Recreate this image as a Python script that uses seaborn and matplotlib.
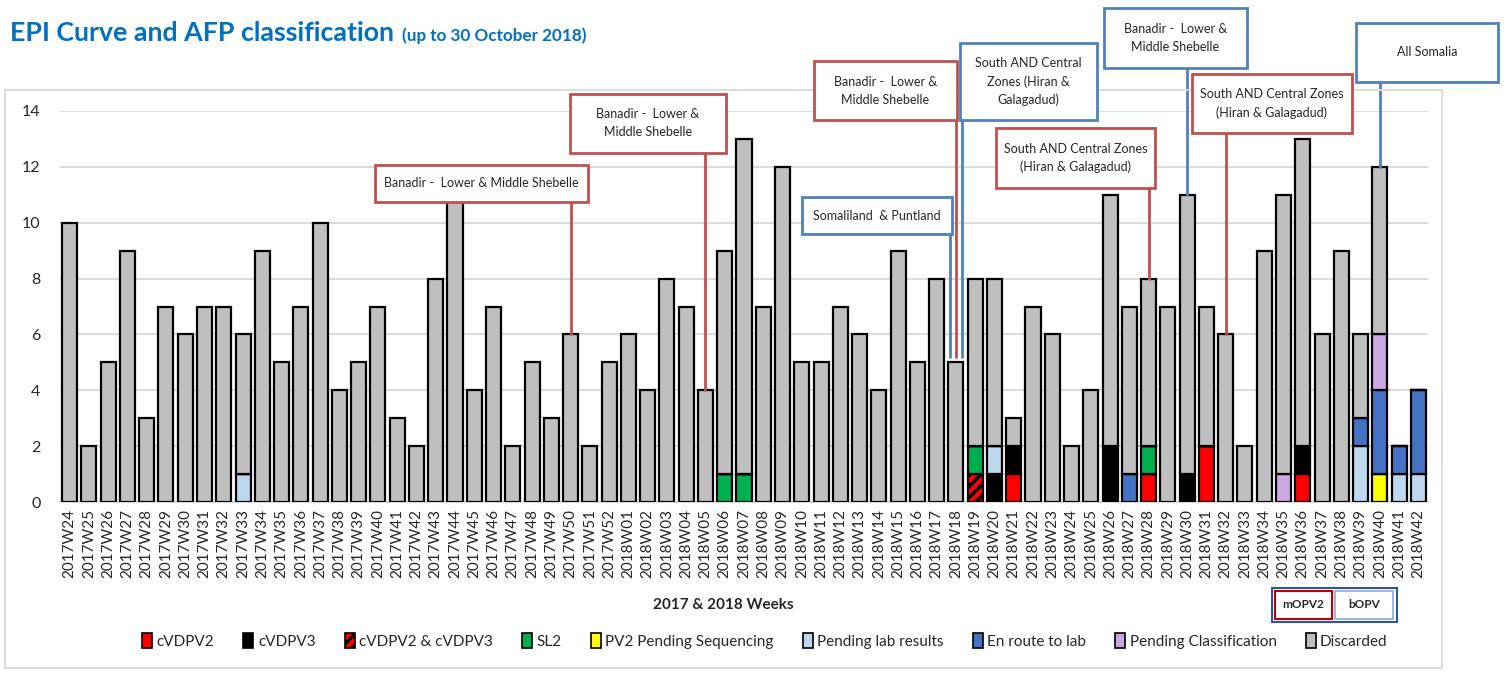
import numpy as np
import pandas as pd
import matplotlib
matplotlib.use("Agg")
import matplotlib.pyplot as plt
import seaborn as sns
from matplotlib.patches import Patch, Rectangle

# Weeks on the x axis
weeks = [f"2017W{w}" for w in range(24, 53)] + [f"2018W{w:02d}" for w in range(1, 43)]

# Discarded cases per week (grey part of each bar)
discarded = [10, 2, 5, 9, 3, 7, 6, 7, 7, 5, 9, 5, 7, 10, 4, 5, 7, 3, 2, 8, 11, 4, 7, 2, 5, 3, 6, 2, 5,
             6, 4, 8, 7, 4, 8, 12, 7, 12, 5, 5, 7, 6, 4, 9, 5, 8, 5, 6, 6, 1, 7, 6, 2, 4, 9,
             6, 6, 7, 10, 5, 6, 2, 9, 10, 11, 6, 9, 3, 6, 0, 0]

# Classified / pending cases (weeks not listed are zero)
cvdpv2 = {"2018W21": 1, "2018W28": 1, "2018W31": 2, "2018W36": 1}
cvdpv3 = {"2018W20": 1, "2018W21": 1, "2018W26": 2, "2018W30": 1, "2018W36": 1}
cvdpv2_3 = {"2018W19": 1}
sl2 = {"2018W06": 1, "2018W07": 1, "2018W19": 1, "2018W28": 1}
pv2_pending = {"2018W40": 1}
pending_lab = {"2017W33": 1, "2018W20": 1, "2018W39": 2, "2018W41": 1, "2018W42": 1}
en_route = {"2018W27": 1, "2018W39": 1, "2018W40": 3, "2018W41": 1, "2018W42": 3}
pending_class = {"2018W35": 1, "2018W40": 2}

categories = ["cVDPV2", "cVDPV3", "cVDPV2 & cVDPV3", "SL2", "PV2 Pending Sequencing",
              "Pending lab results", "En route to lab", "Pending Classification", "Discarded"]
colors = ["#FF0000", "#000000", "#FF0000", "#00B050", "#FFFF00",
          "#BDD7EE", "#4472C4", "#CCA8E2", "#BFBFBF"]
hatches = [None, None, "///", None, None, None, None, None, None]

# Annotation boxes: text, week pointed at, campaign type (m = mOPV2, b = bOPV)
notes_text = ["Banadir -  Lower & Middle Shebelle",
              "Banadir -  Lower &\nMiddle Shebelle",
              "Somaliland  & Puntland",
              "Banadir -  Lower &\nMiddle Shebelle",
              "South AND Central\nZones (Hiran &\nGalagadud)",
              "South AND Central Zones\n(Hiran & Galagadud)",
              "Banadir -  Lower &\nMiddle Shebelle",
              "South AND Central Zones\n(Hiran & Galagadud)",
              "All Somalia"]
notes_week = ["2017W50", "2018W05", "2018W18", "2018W18", "2018W18",
              "2018W28", "2018W30", "2018W32", "2018W40"]
notes_kind = ["m", "m", "b", "m", "b", "m", "b", "m", "b"]

RED = "#C0504D"
BLUE = "#4F81BD"

df = pd.DataFrame({"week": weeks})
series = [cvdpv2, cvdpv3, cvdpv2_3, sl2, pv2_pending, pending_lab, en_route, pending_class]
for name, d in zip(categories[:-1], series):
    df[name] = [d.get(w, 0) for w in weeks]
df["Discarded"] = discarded
totals = df[categories].sum(axis=1).values

sns.set_theme(style="white")
plt.rcParams["font.family"] = ["Lato", "DejaVu Sans"]
plt.rcParams["hatch.linewidth"] = 2.5
plt.rcParams["hatch.color"] = "black"

W, H = 1504, 673
fig = plt.figure(figsize=(W / 100, H / 100), dpi=100)
ax = fig.add_axes([60 / W, 1 - 502 / H, 1368 / W, 391 / H])

bottom = np.zeros(len(weeks))
for cat, col, hat in zip(categories, colors, hatches):
    vals = df[cat].values.astype(float)
    sns.barplot(x=df["week"], y=vals, bottom=bottom, color=col, width=0.78,
                edgecolor="black", linewidth=1.6, hatch=hat, saturation=1,
                errorbar=None, ax=ax, zorder=3)
    bottom = bottom + vals

ax.set_ylim(0, 14)
ax.set_xlim(-0.5, len(weeks) - 0.5)
ax.set_yticks(range(0, 15, 2))
ax.yaxis.grid(True, color="#D9D9D9", linewidth=1.3, zorder=0)
ax.set_axisbelow(True)
for s in ["top", "right", "left"]:
    ax.spines[s].set_visible(False)
ax.spines["bottom"].set_color("#D9D9D9")
ax.spines["bottom"].set_linewidth(1.3)
ax.tick_params(axis="y", length=0, pad=14, labelsize=11.5, labelcolor="#262626")
ax.tick_params(axis="x", length=0, pad=5, labelsize=11, labelcolor="#262626", rotation=90)
ax.set_xlabel("")
ax.set_ylabel("")

# outer chart frame
fig.add_artist(Rectangle((5 / W, 1 - 668 / H), 1437 / W, 578 / H, transform=fig.transFigure,
                         fill=False, edgecolor="#D9D9D9", linewidth=1.3))

# title + subtitle right after it
title = fig.text(10 / W, 1 - 35 / H, "EPI Curve and AFP classification", fontsize=19.3,
                 weight="bold", color="#0070C0", va="baseline")
fig.canvas.draw()
tb = title.get_window_extent(fig.canvas.get_renderer())
fig.text((tb.x1 + 8) / W, 1 - 41 / H, "(up to 30 October 2018)", fontsize=12.3, weight="bold",
         color="#0070C0", va="baseline")
# move title baseline to match
title.set_position((10 / W, 1 - 41 / H))

# annotation boxes with leader lines
note_boxes = [(375, 165, 588, 202), (570, 94, 726, 153), (802, 197, 952, 234),
              (814, 61, 957, 120), (960, 43, 1097, 120), (996, 128, 1155, 188),
              (1104, 8, 1247, 68), (1192, 74, 1352, 133), (1356, 23, 1498, 82)]
note_offsets = [0, 0, -0.33, 0, 0.33, 0, 0, 0, 0]
inv = ax.transData.inverted()
for txt, wk, kind, box, off in zip(notes_text, notes_week, notes_kind, note_boxes, note_offsets):
    ec = RED if kind == "m" else BLUE
    x0, y0, x1, y1 = box
    idx = weeks.index(wk)
    top = totals[idx] + (0.2 if wk == "2018W18" else 0)
    _, y_start = inv.transform((0, H - y1))
    ax.plot([idx + off, idx + off], [y_start, top], color=ec, linewidth=2, clip_on=False, zorder=5)
    fig.add_artist(Rectangle((x0 / W, 1 - y1 / H), (x1 - x0) / W, (y1 - y0) / H,
                             transform=fig.transFigure, facecolor="white", edgecolor=ec,
                             linewidth=2, zorder=6))
    fig.text((x0 + x1) / 2 / W, 1 - (y0 + y1) / 2 / H, txt, ha="center", va="center",
             fontsize=9, color="#262626", linespacing=1.6, zorder=7)

# x axis title
fig.text(723 / W, 1 - 605 / H, "2017 & 2018 Weeks", ha="center", va="center",
         fontsize=11, weight="bold", color="#262626")

# mOPV2 / bOPV key
fig.add_artist(Rectangle((1272 / W, 1 - 622 / H), 125 / W, 34 / H, transform=fig.transFigure,
                         fill=False, edgecolor="#2F5597", linewidth=1.5))
fig.add_artist(Rectangle((1275 / W, 1 - 619 / H), 57 / W, 28 / H, transform=fig.transFigure,
                         fill=False, edgecolor="#C00000", linewidth=1.5))
fig.add_artist(Rectangle((1335 / W, 1 - 619 / H), 58 / W, 28 / H, transform=fig.transFigure,
                         fill=False, edgecolor="#8EA9DB", linewidth=1.2))
fig.text(1303 / W, 1 - 605 / H, "mOPV2", ha="center", va="center", fontsize=8.5, weight="bold")
fig.text(1364 / W, 1 - 605 / H, "bOPV", ha="center", va="center", fontsize=8.5, weight="bold")

# legend
handles = [Patch(facecolor=c, edgecolor="black", hatch=h, linewidth=1.2)
           for c, h in zip(colors, hatches)]
fig.legend(handles, categories, loc="center", bbox_to_anchor=(765 / W, 1 - 641 / H), ncol=9,
           frameon=False, fontsize=11, handlelength=0.65, handleheight=1.1,
           handletextpad=0.3, columnspacing=1.9)

fig.savefig("out.png", dpi=100)
